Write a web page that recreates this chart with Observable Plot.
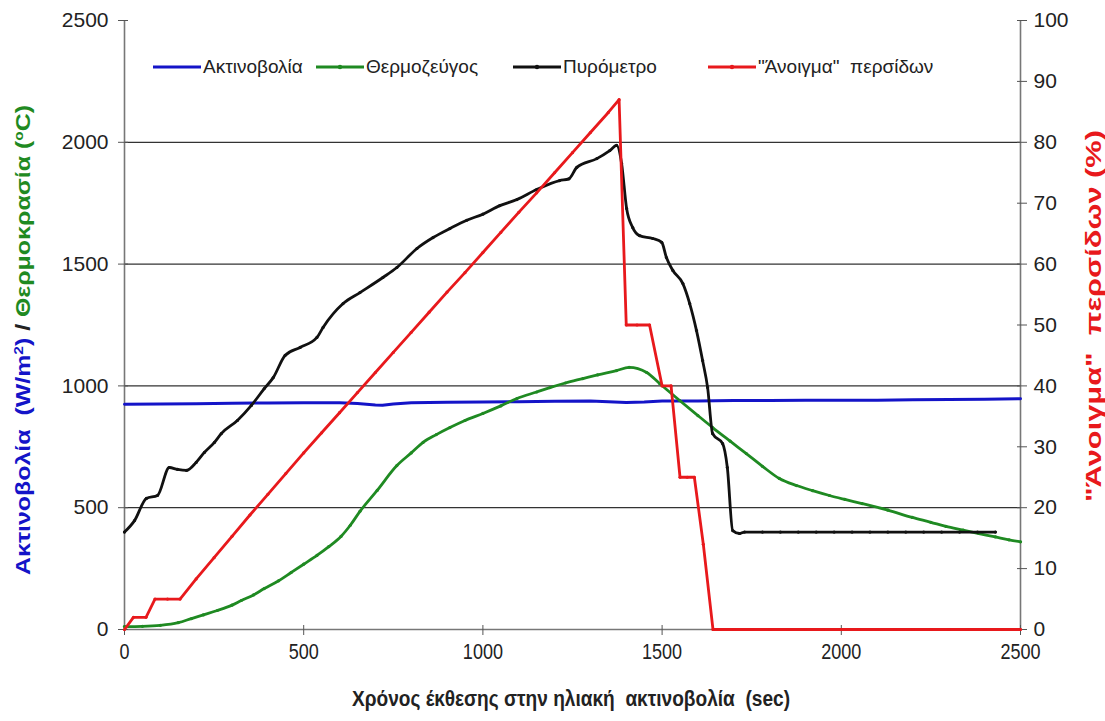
<!DOCTYPE html>
<html>
<head>
<meta charset="utf-8">
<script src="https://cdn.jsdelivr.net/npm/d3@7"></script>
<script src="https://cdn.jsdelivr.net/npm/@observablehq/plot@0.6"></script>
<style>
  html, body { margin: 0; padding: 0; background: #fff; }
  #wrap { position: relative; width: 1105px; height: 721px; }
  .leg { position: absolute; top: 56px; display: flex; align-items: center; font-family: "Liberation Sans", Arial, sans-serif; font-size: 19px; color: #222; white-space: pre; }
  .leg svg { margin-right: 2px; }
</style>
</head>
<body>
<div id="wrap"></div>
<script>
// ---- data ----
const xTicks = [0, 500, 1000, 1500, 2000, 2500];
const leftTicks = [0, 500, 1000, 1500, 2000, 2500];
const rightTicks = [0, 10, 20, 30, 40, 50, 60, 70, 80, 90, 100];
const gridVals = [500, 1000, 1500, 2000];

// Ακτινοβολία (W/m2)
const blueT = [0,100,200,300,400,500,600,650,700,720,750,800,900,1000,1100,1200,1300,1350,1400,1450,1500,1600,1700,1800,1900,2000,2100,2200,2300,2400,2500];
const blueV = [925,926,927,929,930,931,931,928,922,921,926,931,933,934,935,937,938,935,932,934,938,938,940,940,941,941,941,943,944,945,947];

// Θερμοζεύγος (°C)
const greenT = [0,50,100,150,187,220,259,300,326,360,390,430,465,500,537,570,604,630,657,705,760,800,833,870,908,950,1000,1050,1095,1150,1187,1230,1279,1320,1373,1408,1457,1493,1549,1600,1641,1690,1735,1780,1827,1875,1920,1967,2010,2058,2130,2198,2250,2292,2340,2384,2430,2468,2500];
const greenV = [12,13,17,28,45,60,78,100,119,142,168,200,234,268,304,340,382,428,485,571,673,725,768,800,829,858,887,918,948,975,993,1012,1030,1045,1063,1076,1055,1010,940,878,829,773,722,670,620,591,570,550,534,517,490,460,440,423,408,394,380,368,360];

// Πυρόμετρο (°C)
const blackT = [0,28,61,92,125,148,173,200,223,251,270,315,354,390,415,448,490,537,554,610,657,721,760,816,861,908,955,1000,1047,1095,1150,1214,1240,1262,1318,1354,1373,1387,1401,1418,1437,1474,1499,1512,1530,1558,1577,1596,1613,1627,1641,1669,1682,1697,1716,1730,1780,1830,1880,1930,1980,2030,2080,2130,2180,2230,2280,2330,2380,2430];
const blackV = [400,447,538,550,665,657,653,686,727,768,804,858,920,989,1034,1125,1158,1199,1240,1338,1383,1445,1486,1564,1609,1646,1680,1705,1740,1765,1806,1843,1850,1897,1933,1966,1987,1913,1728,1650,1617,1605,1589,1527,1474,1420,1338,1227,1104,993,804,763,665,406,394,400,400,400,400,400,400,400,400,400,400,400,400,400,400,400];

// "Άνοιγμα" περσίδων (%)
const redT = [0,25,60,85,120,155,200,250,300,350,400,450,500,550,600,650,700,750,800,850,900,950,1000,1050,1100,1150,1200,1250,1300,1350,1380,1400,1430,1465,1500,1525,1550,1570,1590,1615,1642,1700,1750,1800,1850,1900,1950,2000,2050,2100,2150,2200,2250,2300,2350,2400,2450,2500];
const redV = [0,2,2,5,5,5,8.3,11.8,15.3,18.8,22.2,25.6,29.0,32.3,35.6,38.9,42.2,45.5,48.8,52.1,55.4,58.6,61.9,65.2,68.5,71.7,75.0,78.3,81.6,84.9,87,50,50,50,40,40,25,25,25,14,0,0,0,0,0,0,0,0,0,0,0,0,0,0,0,0,0,0];

const legendItems = [
  {label: "Ακτινοβολία", color: "#1414c8", marker: false, left: 153},
  {label: "Θερμοζεύγος", color: "#1f8a22", marker: true, left: 316},
  {label: "Πυρόμετρο", color: "#111111", marker: true, left: 513},
  {label: "\"Άνοιγμα\"  περσίδων", color: "#e8191c", marker: true, left: 708}
];

// ---- build ----
const COL = {blue: "#1414c8", green: "#1f8a22", black: "#111111", red: "#e8191c"};
const blue = blueT.map((t, i) => ({t, v: blueV[i]}));
const green = greenT.map((t, i) => ({t, v: greenV[i]}));
const black = blackT.map((t, i) => ({t, v: blackV[i]}));
const red = redT.map((t, i) => ({t, v: redV[i] * 25}));
const FONT = "'Liberation Sans', Arial, sans-serif";

const chart = Plot.plot({
  width: 1105,
  height: 721,
  marginLeft: 124,
  marginRight: 85,
  marginTop: 20,
  marginBottom: 92,
  x: {domain: [0, 2500]},
  y: {domain: [0, 2500]},
  style: {fontFamily: FONT, fontSize: "20px", color: "#222", background: "#fff"},
  marks: [
    Plot.ruleY(gridVals, {stroke: "#333", strokeWidth: 1.3}),
    Plot.ruleX([0, 2500], {stroke: "#777", strokeWidth: 1.6}),
    Plot.ruleY([0], {stroke: "#777", strokeWidth: 1.6}),
    Plot.axisY(leftTicks, {anchor: "left", tickSize: 10, dx: 4, tickPadding: 10, tickFormat: d => String(d), label: null, stroke: "#555", fill: "#222", fontSize: 21}),
    Plot.axisY(rightTicks.map(d => d * 25), {anchor: "right", tickSize: 10, dx: -4, tickPadding: 7, tickFormat: d => String(d / 25), label: null, stroke: "#555", fill: "#222", fontSize: 21}),
    Plot.axisX(xTicks, {anchor: "bottom", tickSize: 10, dy: -4, tickPadding: 8, tickFormat: d => String(d), label: null, stroke: "#555", fill: "#222", fontSize: 22}),
    Plot.line(blue, {x: "t", y: "v", stroke: COL.blue, strokeWidth: 3}),
    Plot.line(green, {x: "t", y: "v", stroke: COL.green, strokeWidth: 2.8, curve: "monotone-x"}),
    Plot.dot(green, {x: "t", y: "v", r: 1.6, fill: COL.green}),
    Plot.line(black, {x: "t", y: "v", stroke: COL.black, strokeWidth: 2.8, curve: "monotone-x"}),
    Plot.dot(black, {x: "t", y: "v", r: 1.6, fill: COL.black}),
    Plot.line(red, {x: "t", y: "v", stroke: COL.red, strokeWidth: 2.8}),
    Plot.dot(red, {x: "t", y: "v", r: 1.6, fill: COL.red})
  ]
});

const wrap = document.getElementById("wrap");
wrap.appendChild(chart);

const svg = d3.select(chart);

// condense the x tick labels (narrow face look)
svg.selectAll('g[aria-label="x-axis tick label"] text').each(function() {
  const w = this.getComputedTextLength();
  this.setAttribute("textLength", (w * 0.82).toFixed(1));
  this.setAttribute("lengthAdjust", "spacingAndGlyphs");
});

// axis titles
const lt = svg.append("text")
  .attr("transform", "translate(30,340) rotate(-90)")
  .attr("text-anchor", "middle")
  .attr("font-weight", "bold")
  .attr("font-size", 21)
  .attr("font-family", FONT)
  .attr("textLength", 470)
  .attr("lengthAdjust", "spacingAndGlyphs");
lt.append("tspan").attr("fill", COL.blue).text("Ακτινοβολία  (W/m");
lt.append("tspan").attr("fill", COL.blue).attr("baseline-shift", "super").attr("font-size", 13).text("2");
lt.append("tspan").attr("fill", COL.blue).text(")");
lt.append("tspan").attr("fill", "#222").text(" / ");
lt.append("tspan").attr("fill", COL.green).text("Θερμοκρασία (");
lt.append("tspan").attr("fill", COL.green).attr("baseline-shift", "super").attr("font-size", 13).text("o");
lt.append("tspan").attr("fill", COL.green).text("C)");

svg.append("text")
  .attr("transform", "translate(1101,316) rotate(-90)")
  .attr("text-anchor", "middle")
  .attr("font-weight", "bold")
  .attr("font-size", 22)
  .attr("font-family", FONT)
  .attr("fill", COL.red)
  .attr("textLength", 372)
  .attr("lengthAdjust", "spacingAndGlyphs")
  .text("\"Άνοιγμα\"  περσίδων (%)");

svg.append("text")
  .attr("x", 571)
  .attr("y", 706)
  .attr("text-anchor", "middle")
  .attr("font-weight", "bold")
  .attr("font-size", 22)
  .attr("font-family", FONT)
  .attr("fill", "#222")
  .attr("textLength", 438)
  .attr("lengthAdjust", "spacingAndGlyphs")
  .text("Χρόνος έκθεσης στην ηλιακή  ακτινοβολία  (sec)");

// legend
for (const it of legendItems) {
  const d = document.createElement("div");
  d.className = "leg";
  d.style.left = it.left + "px";
  const m = it.marker ? `<circle cx="24" cy="6" r="2.2" fill="${it.color}"/>` : "";
  d.innerHTML = `<svg width="48" height="12"><line x1="0" x2="48" y1="6" y2="6" stroke="${it.color}" stroke-width="3"/>${m}</svg><span>${it.label}</span>`;
  wrap.appendChild(d);
}
</script>
</body>
</html>
